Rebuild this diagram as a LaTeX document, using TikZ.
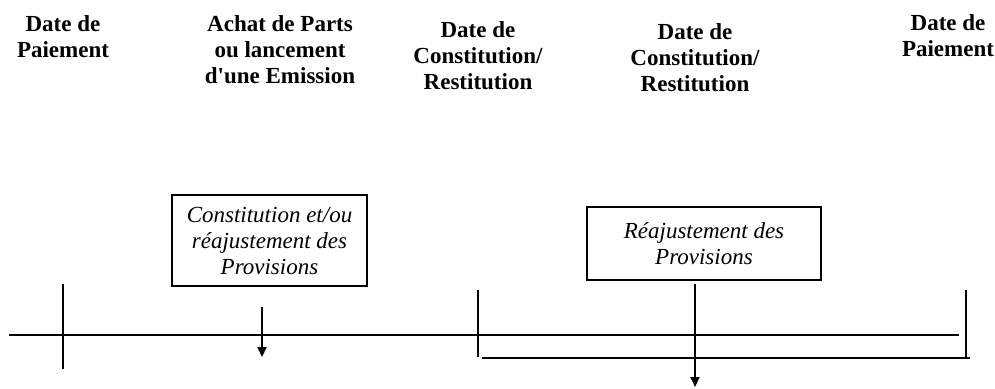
\documentclass[tikz,border=0pt]{standalone}
\usepackage{fontspec}
\setmainfont{Liberation Serif}
\usetikzlibrary{arrows.meta}
\begin{document}
\begin{tikzpicture}[x=1pt,y=-1pt,
  hdr/.style={font=\fontsize{23}{26}\selectfont\bfseries, align=center, anchor=north, inner sep=0pt},
  boxnode/.style={draw, line width=1.4pt, font=\fontsize{23}{26}\selectfont\itshape, align=center, inner sep=0pt},
  tl/.style={line width=2.9pt},
  arr/.style={line width=2.1pt, -{Triangle[width=9pt,length=10pt]}}]
\useasboundingbox (0,0) rectangle (995,388);
% headers
\node[hdr] (h1) at (63,15) {Date de\\Paiement};
\node[hdr] (h2) at (280,15) {Achat de Parts\\ou lancement\\d\textquotesingle une Emission};
\node[hdr] (h3) at (478,21) {Date de\\Constitution/\\Restitution};
\node[hdr] (h4) at (695,23) {Date de\\Constitution/\\Restitution};
\node[hdr] (h5) at (948,14) {Date de\\Paiement};
% boxes
\node[boxnode, minimum width=195pt, minimum height=91pt] (b1) at (269.5,240.5) {Constitution et/ou\\réajustement des\\Provisions};
\node[boxnode, minimum width=234pt, minimum height=73pt] (b2) at (704,243.5) {Réajustement des\\Provisions};
% timeline coordinates
\coordinate (mL) at (9,335);
\coordinate (mR) at (959,335);
\coordinate (t1a) at (63,284);
\coordinate (t1b) at (63,369);
\coordinate (t2a) at (478,290);
\coordinate (t2b) at (478,357);
\coordinate (lL) at (482,358);
\coordinate (lR) at (970,358);
\coordinate (t3a) at (966,290);
\coordinate (t3b) at (966,358);
\coordinate (a1s) at (262,307);
\coordinate (a1e) at (262,357);
\coordinate (a2s) at (695,284);
\coordinate (a2e) at (695,387);
% lines
\draw[tl] (mL) -- (mR);
\draw[tl] (t1a) -- (t1b);
\draw[tl] (t2a) -- (t2b);
\draw[tl] (lL) -- (lR);
\draw[tl] (t3a) -- (t3b);
% arrows
\draw[arr] (a1s) -- (a1e);
\draw[arr] (a2s) -- (a2e);
\end{tikzpicture}
\end{document}
